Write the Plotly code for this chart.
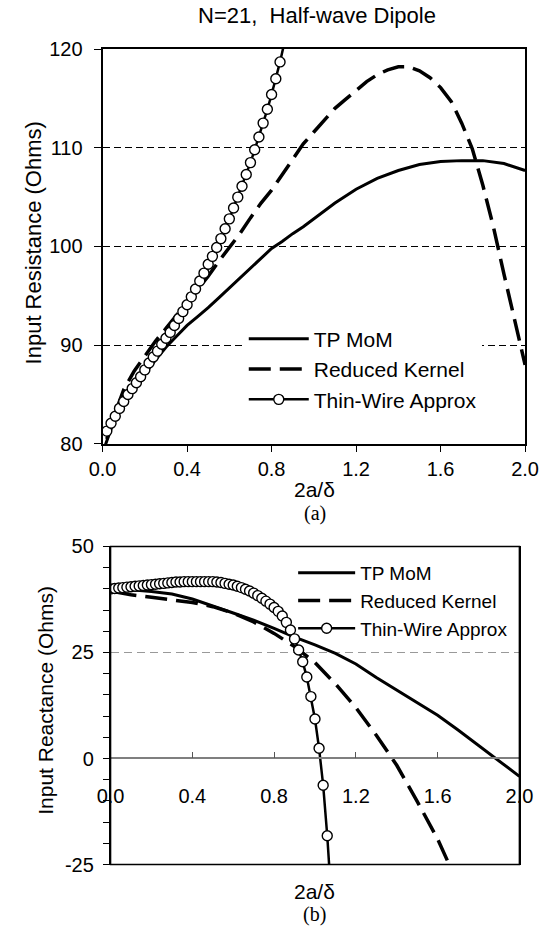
import plotly.graph_objects as go

# ---------------- (a) Input resistance ----------------
tp_res_x = [0.01, 0.05, 0.10, 0.15, 0.20, 0.25, 0.30, 0.35, 0.40, 0.45, 0.50, 0.55, 0.60, 0.65,
            0.70, 0.75, 0.80, 0.85, 0.90, 0.95, 1.00, 1.10, 1.20, 1.30, 1.40, 1.50, 1.60, 1.70,
            1.80, 1.90, 2.00]
tp_res_y = [79.7, 82.1, 84.0, 85.6, 87.1, 88.5, 89.8, 90.9, 92.0, 92.9, 93.8, 94.8, 95.8, 96.9,
            97.9, 98.9, 99.8, 100.5, 101.3, 102.0, 102.8, 104.4, 105.8, 106.9, 107.7, 108.3,
            108.6, 108.7, 108.7, 108.4, 107.7]

rk_res_x = [0.02, 0.05, 0.10, 0.15, 0.20, 0.25, 0.30, 0.35, 0.40, 0.45, 0.50, 0.55, 0.60, 0.65,
            0.70, 0.75, 0.80, 0.85, 0.90, 0.95, 1.00, 1.05, 1.10, 1.15, 1.20, 1.25, 1.30, 1.35,
            1.40, 1.45, 1.50, 1.55, 1.60, 1.65, 1.70, 1.75, 1.80, 1.85, 1.90, 1.95, 2.00]
rk_res_y = [80.5, 82.6, 85.5, 87.4, 88.9, 90.4, 91.7, 93.0, 94.3, 95.6, 97.0, 98.5, 99.9, 101.3,
            102.9, 104.4, 105.7, 107.3, 108.9, 110.4, 111.6, 112.8, 114.0, 114.9, 115.8, 116.7,
            117.4, 117.9, 118.2, 118.2, 117.8, 117.1, 116.1, 114.7, 112.5, 109.9, 106.2, 102.0,
            97.2, 92.5, 88.0]

tw_res_x = [0.02, 0.04, 0.06, 0.08, 0.10, 0.12, 0.14, 0.16, 0.18, 0.20, 0.22, 0.24, 0.26, 0.28,
            0.30, 0.32, 0.34, 0.36, 0.38, 0.40, 0.42, 0.44, 0.46, 0.48, 0.50, 0.52, 0.54, 0.56,
            0.58, 0.60, 0.62, 0.64, 0.66, 0.68, 0.70, 0.72, 0.74, 0.76, 0.78, 0.80, 0.82, 0.84,
            0.86]
tw_res_y = [81.3, 82.1, 82.8, 83.6, 84.3, 85.0, 85.6, 86.2, 86.8, 87.5, 88.2, 88.8, 89.4, 90.1,
            90.7, 91.3, 92.0, 92.7, 93.4, 94.1, 94.9, 95.7, 96.5, 97.3, 98.2, 99.0, 99.9, 100.8,
            101.8, 102.8, 103.9, 105.0, 106.1, 107.3, 108.5, 109.8, 111.1, 112.5, 113.9, 115.4,
            117.0, 118.7, 120.6]

# ---------------- (b) Input reactance ----------------
tp_rea_x = [0.02, 0.10, 0.20, 0.30, 0.40, 0.50, 0.60, 0.70, 0.80, 0.90, 1.00, 1.10, 1.20, 1.30,
            1.40, 1.50, 1.60, 1.70, 1.80, 1.90, 2.00]
tp_rea_y = [39.9, 39.8, 39.4, 38.8, 37.6, 36.0, 34.3, 32.6, 30.7, 28.6, 26.8, 24.8, 22.3, 19.1,
            16.2, 13.3, 10.2, 6.7, 3.0, -0.7, -4.2]

rk_rea_x = [0.02, 0.10, 0.20, 0.30, 0.40, 0.50, 0.60, 0.70, 0.80, 0.90, 1.00, 1.10, 1.20, 1.30,
            1.40, 1.50, 1.60, 1.65]
rk_rea_y = [39.3, 38.6, 38.0, 37.5, 36.8, 35.8, 34.3, 32.2, 29.5, 26.4, 22.6, 17.6, 12.0, 5.5,
            -1.6, -10.1, -19.0, -24.3]

tw_rea_x = [0.00, 0.02, 0.04, 0.06, 0.08, 0.10, 0.12, 0.14, 0.16, 0.18, 0.20, 0.22, 0.24, 0.26,
            0.28, 0.30, 0.32, 0.34, 0.36, 0.38, 0.40, 0.42, 0.44, 0.46, 0.48, 0.50, 0.52, 0.54,
            0.56, 0.58, 0.60, 0.62, 0.64, 0.66, 0.68, 0.70, 0.72, 0.74, 0.76, 0.78, 0.80, 0.82,
            0.84, 0.86, 0.88, 0.90, 0.92, 0.94, 0.96, 0.98, 1.00, 1.02, 1.04, 1.06, 1.08]
tw_rea_y = [40.0, 40.1, 40.2, 40.3, 40.4, 40.5, 40.6, 40.7, 40.8, 40.9, 41.0, 41.1, 41.2, 41.3,
            41.4, 41.5, 41.6, 41.6, 41.7, 41.7, 41.7, 41.7, 41.7, 41.7, 41.7, 41.7, 41.6, 41.5,
            41.3, 41.1, 40.9, 40.6, 40.3, 39.9, 39.5, 39.0, 38.4, 37.8, 37.1, 36.4, 35.6, 34.7,
            33.6, 32.1, 30.3, 28.2, 25.6, 22.8, 19.2, 14.6, 9.3, 2.4, -6.3, -18.2, -33.0]

x_ticks = [0.0, 0.4, 0.8, 1.2, 1.6, 2.0]
x_tick_text = ["0.0", "0.4", "0.8", "1.2", "1.6", "2.0"]
res_ticks = [80, 90, 100, 110, 120]
res_tick_text = ["80", "90", "100", "110", "120"]
rea_ticks = [-25, 0, 25, 50]
rea_tick_text = ["-25", "0", "25", "50"]
series_names = ["TP MoM", "Reduced Kernel", "Thin-Wire Approx"]

SANS = "Liberation Sans, Arial, sans-serif"
SERIF = "Liberation Serif, Times New Roman, serif"
W, H = 554, 939

# pixel geometry of the two plot boxes: left, right, top, bottom
top_box = (93.3, 538.3, 39.0, 443.3)
bot_box = (101.7, 532.3, 548.3, 874.0)


def xdom(b):
    return [b[0] / W, b[1] / W]


def ydom(b):
    return [1 - b[3] / H, 1 - b[2] / H]


fig = go.Figure()

line_styles = [dict(color="black", width=3),
               dict(color="black", width=3.5, dash="22px,9px"),
               dict(color="black", width=2.5)]
marker_style = dict(symbol="circle", size=10, color="white", line=dict(color="black", width=1.4))

for name, xs, ys, ls, mode in [
    (series_names[0], tp_res_x, tp_res_y, line_styles[0], "lines"),
    (series_names[1], rk_res_x, rk_res_y, line_styles[1], "lines"),
    (series_names[2], tw_res_x, tw_res_y, line_styles[2], "lines+markers"),
]:
    fig.add_trace(go.Scatter(x=xs, y=ys, name=name, mode=mode, line=ls,
                             marker=marker_style, xaxis="x", yaxis="y", legend="legend"))

for name, xs, ys, ls, mode in [
    (series_names[0], tp_rea_x, tp_rea_y, line_styles[0], "lines"),
    (series_names[1], rk_rea_x, rk_rea_y, line_styles[1], "lines"),
    (series_names[2], tw_rea_x, tw_rea_y, line_styles[2], "lines+markers"),
]:
    fig.add_trace(go.Scatter(x=xs, y=ys, name=name, mode=mode, line=ls,
                             marker=marker_style, xaxis="x2", yaxis="y2", legend="legend2"))

tickfont = dict(family=SANS, size=20, color="black")

bd = ydom(bot_box)
y0_pos = bd[0] + (bd[1] - bd[0]) * (0 - (-25)) / 75.0

fig.update_layout(
    width=W, height=H,
    margin=dict(l=0, r=0, t=0, b=0),
    paper_bgcolor="white", plot_bgcolor="white",
    font=dict(family=SANS, color="black"),
    title=dict(text="N=21,\u00a0 Half-wave Dipole", x=317 / W, xanchor="center",
               y=1 - 15.7 / H, yanchor="middle", font=dict(family=SANS, size=22, color="black")),
    xaxis=dict(domain=xdom(top_box), anchor="y", range=[0, 2], tickvals=x_ticks,
               ticktext=x_tick_text, ticks="outside", ticklen=6, tickcolor="black",
               tickfont=tickfont, ticklabelstandoff=0, showline=True, mirror=True,
               linecolor="black", linewidth=2, showgrid=False, zeroline=False),
    yaxis=dict(domain=ydom(top_box), anchor="x", range=[80, 120], tickvals=res_ticks,
               ticktext=res_tick_text,
               ticks="outside", ticklen=7, tickcolor="black", tickfont=tickfont,
               ticklabelstandoff=7, showline=True, mirror=True, linecolor="black", linewidth=2,
               showgrid=True, gridcolor="black", gridwidth=1, griddash="7px,4px",
               zeroline=False),
    # bottom x axis drawn along the zero line
    xaxis2=dict(domain=xdom(bot_box), anchor="free", position=y0_pos, range=[0, 2],
                tickvals=x_ticks, ticktext=x_tick_text, ticks="inside", ticklen=6,
                tickcolor="#555555", tickfont=tickfont, ticklabelstandoff=20,
                showline=True, linecolor="#7f7f7f", linewidth=1.5,
                showgrid=False, zeroline=False),
    yaxis2=dict(domain=ydom(bot_box), anchor="x2", range=[-25, 50], tickvals=rea_ticks,
                ticktext=rea_tick_text,
                ticks="outside", ticklen=6, tickcolor="black", tickfont=tickfont,
                ticklabelstandoff=5, showline=True, mirror=True, linecolor="black",
                linewidth=1.5, showgrid=True, gridcolor="#999999", gridwidth=1,
                griddash="8px,5px", zeroline=False,
                minor=dict(dtick=5, tick0=0, ticks="outside", ticklen=6, tickcolor="black",
                           showgrid=False)),
    legend=dict(x=242 / W, y=1 - 315 / H, xanchor="left", yanchor="top",
                bgcolor="white", borderwidth=0, itemwidth=60, tracegroupgap=0,
                font=dict(family=SANS, size=21, color="black")),
    legend2=dict(x=294 / W, y=1 - 556 / H, xanchor="left", yanchor="top",
                 bgcolor="rgba(0,0,0,0)", borderwidth=0, itemwidth=57, tracegroupgap=0,
                 font=dict(family=SANS, size=19, color="black")),
    showlegend=True,
    shapes=[dict(type="rect", xref="x2 domain", yref="y2 domain", x0=0, x1=1, y0=0, y1=1,
                 line=dict(color="black", width=1.5), fillcolor="rgba(0,0,0,0)",
                 layer="above")],
)

annotations = [
    dict(text="Input Resistance (Ohms)", x=20 / W, y=1 - 237 / H, textangle=-90,
         font=dict(family=SANS, size=22)),
    dict(text="Input Reactance (Ohms)", x=33 / W, y=1 - 706 / H, textangle=-90,
         font=dict(family=SANS, size=21)),
    dict(text="2a/\u03b4", x=317 / W, y=1 - 490 / H, font=dict(family=SANS, size=21)),
    dict(text="(a)", x=317 / W, y=1 - 515 / H, font=dict(family=SERIF, size=20)),
    dict(text="2a/\u03b4", x=317 / W, y=1 - 901.6 / H, font=dict(family=SANS, size=21)),
    dict(text="(b)", x=317 / W, y=1 - 925 / H, font=dict(family=SERIF, size=20)),
]
for a in annotations:
    a.update(xref="paper", yref="paper", showarrow=False, xanchor="center", yanchor="middle")
    a["font"]["color"] = "black"
fig.update_layout(annotations=annotations)

fig.write_html("out.html", config={"displayModeBar": False},
               post_script="document.body.style.margin='0px';")
